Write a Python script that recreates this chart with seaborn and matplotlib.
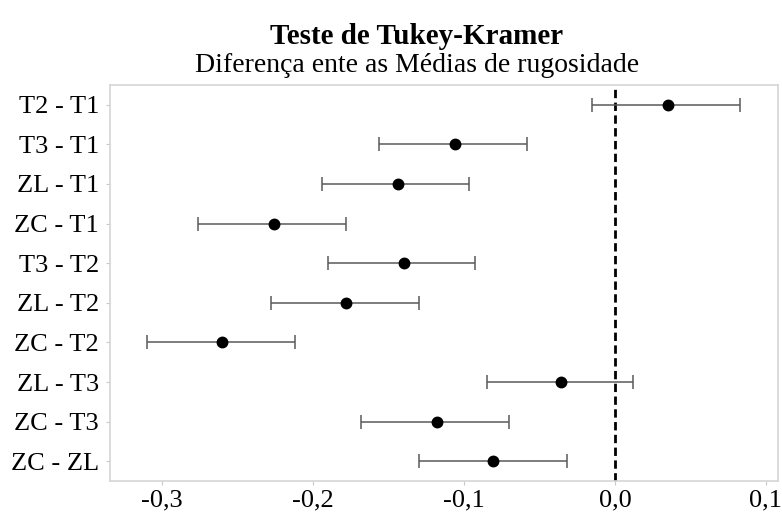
import pandas as pd
import numpy as np
import seaborn as sns
import matplotlib.pyplot as plt

# Tukey-Kramer comparisons
comparisons = ["T2 - T1", "T3 - T1", "ZL - T1", "ZC - T1", "T3 - T2",
               "ZL - T2", "ZC - T2", "ZL - T3", "ZC - T3", "ZC - ZL"]
diff_mean = [0.035, -0.106, -0.144, -0.226, -0.140,
             -0.178, -0.260, -0.036, -0.118, -0.081]
ci_low = [-0.015, -0.156, -0.194, -0.276, -0.190,
          -0.228, -0.310, -0.085, -0.168, -0.130]
ci_high = [0.083, -0.058, -0.097, -0.178, -0.093,
           -0.130, -0.212, 0.012, -0.070, -0.032]
x_ticks = [-0.3, -0.2, -0.1, 0.0, 0.1]
x_tick_labels = ["-0,3", "-0,2", "-0,1", "0,0", "0,1"]

df = pd.DataFrame({"Comparacao": comparisons, "Media": diff_mean,
                   "Inferior": ci_low, "Superior": ci_high})

sns.set_style("white")
plt.rcParams["font.family"] = ["Liberation Serif", "DejaVu Serif"]
plt.rcParams["text.color"] = "black"

fig = plt.figure(figsize=(7.82, 5.15), dpi=100)
ax = fig.add_axes([0.1407, 0.066, 0.8542, 0.769])

# confidence intervals
pos = np.arange(len(df))
ax.errorbar(df["Media"], pos,
            xerr=[df["Media"] - df["Inferior"], df["Superior"] - df["Media"]],
            fmt="none", ecolor="#5a5a5a", elinewidth=1.1, capsize=5,
            capthick=1.1, zorder=2)

# means
sns.pointplot(data=df, x="Media", y="Comparacao", orient="h",
              linestyle="none", color="black", markersize=6.5,
              errorbar=None, ax=ax, zorder=3)

ax.axvline(0, color="black", linestyle=(0, (3, 1.6)), linewidth=2, zorder=1)

ax.set_xlim(-0.3345, 0.108)
ax.set_ylim(9.5, -0.5)
ax.set_xticks(x_ticks)
ax.set_xticklabels(x_tick_labels)
ax.set_xlabel("")
ax.set_ylabel("")
ax.tick_params(axis="y", labelsize=19, length=3, color="#c8c8c8", pad=5,
               labelcolor="black")
ax.tick_params(axis="x", labelsize=19, length=3, color="#c8c8c8", pad=3,
               labelcolor="black")
ax.tick_params(left=True, bottom=True)
for s in ax.spines.values():
    s.set_color("#d5d5d5")
    s.set_linewidth(1.2)

fig.text(0.533, 0.93, "Teste de Tukey-Kramer", ha="center", va="center",
         fontsize=21, fontweight="bold")
fig.text(0.533, 0.872, "Diferença ente as Médias de rugosidade",
         ha="center", va="center", fontsize=20)

plt.savefig("out.png", dpi=100)
